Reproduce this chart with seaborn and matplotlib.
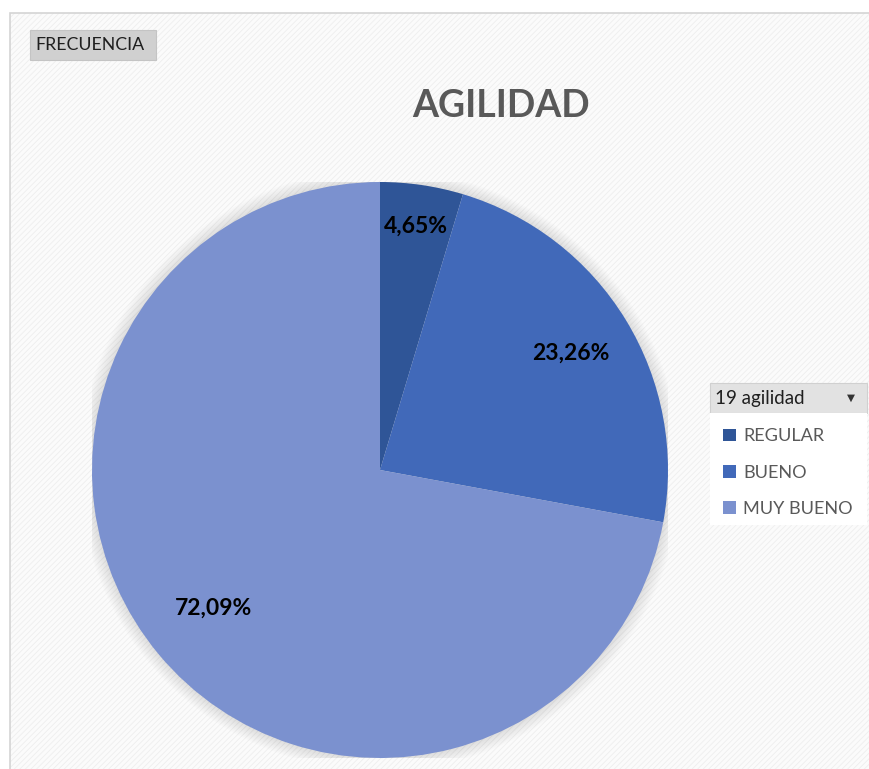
import numpy as np
import matplotlib
matplotlib.use("Agg")
import matplotlib.pyplot as plt
from matplotlib.patches import Rectangle, FancyBboxPatch, Circle
import seaborn as sns

# ---- data ----
categories = ["REGULAR", "BUENO", "MUY BUENO"]
counts = [2, 10, 31]
pct_labels = ["4,65%", "23,26%", "72,09%"]
title = "AGILIDAD"
field_button = "FRECUENCIA"
legend_title = "19 agilidad"

sns.set_style("white")
plt.rcParams["font.family"] = ["Lato", "DejaVu Sans"]
colors = sns.color_palette(["#2F5597", "#4169B9", "#7B91CF"])

W, H = 870, 769
fig = plt.figure(figsize=(W / 100, H / 100), dpi=100)
fig.patch.set_facecolor("white")

def fx(px):
    return px / W

def fy(py):
    return 1 - py / H

# chart area background with faint diagonal hatch
plt.rcParams["hatch.linewidth"] = 0.6
bg = Rectangle((fx(10), 0), 1 - fx(10), fy(13), transform=fig.transFigure,
               facecolor="#fbfbfb", edgecolor="#eeeeee", hatch="//////",
               linewidth=0, zorder=-10)
fig.patches.append(bg)
border = Rectangle((fx(10), -0.01), 1.0, fy(13) + 0.01, transform=fig.transFigure,
                   facecolor="none", edgecolor="#d4d4d4", linewidth=1.2, zorder=-9)
fig.patches.append(border)

# pie axes
cx, cy, r = 380, 470, 288
ax = fig.add_axes([fx(cx - r), fy(cy + r), 2 * r / W, 2 * r / H])
ax.set_zorder(5)
ax.set_facecolor("none")
ax.patch.set_alpha(0)

# soft shadow glow
for rr in np.linspace(1.045, 1.0, 10):
    ax.add_patch(Circle((0, 0), rr, facecolor="#000000", alpha=0.012,
                        edgecolor="none", zorder=0))

wedges, texts = ax.pie(counts, colors=colors, startangle=90, counterclock=False,
                       radius=1.0, wedgeprops=dict(linewidth=0))
for w in wedges:
    w.set_zorder(2)

label_r = [0.856, 0.776, 0.75]
for w, lab, rr in zip(wedges, pct_labels, label_r):
    ang = np.deg2rad((w.theta1 + w.theta2) / 2)
    ax.text(rr * np.cos(ang), rr * np.sin(ang), lab, ha="center", va="center",
            fontsize=16.5, fontweight="bold", color="black", zorder=3)

ax.set_xlim(-1, 1)
ax.set_ylim(-1, 1)
ax.set_aspect("equal")
ax.axis("off")

# title
fig.text(fx(501), fy(106), title, ha="center", va="center", fontsize=27,
         fontweight="bold", color="#595959")

# field button
btn = FancyBboxPatch((fx(30), fy(60)), fx(126), 30 / H, boxstyle="square,pad=0",
                     transform=fig.transFigure, facecolor="#d0d0d0",
                     edgecolor="#c4c4c4", linewidth=0.8, zorder=2)
fig.patches.append(btn)
fig.text(fx(35), fy(45), field_button, ha="left", va="center", fontsize=12.8,
         color="#1f1f1f", zorder=3)

# legend header
hdr = FancyBboxPatch((fx(710), fy(413)), fx(157), 30 / H, boxstyle="square,pad=0",
                     transform=fig.transFigure, facecolor="#e2e2e2",
                     edgecolor="#d0d0d0", linewidth=0.8, zorder=2)
fig.patches.append(hdr)
fig.text(fx(715), fy(399), legend_title, ha="left", va="center", fontsize=13.5,
         color="#1f1f1f", zorder=3)
fig.text(fx(851), fy(398), "\u25BC", ha="center", va="center", fontsize=7.5,
         color="#333333", family=["DejaVu Sans"], zorder=3)

# legend body
body = Rectangle((fx(710), fy(525)), fx(157), 112 / H, transform=fig.transFigure,
                 facecolor="white", edgecolor="none", zorder=2)
fig.patches.append(body)
leg = fig.legend(wedges, categories, loc="upper left",
                 bbox_to_anchor=(fx(716), fy(421)), frameon=False,
                 handlelength=0.7, handleheight=0.7, handletextpad=0.4,
                 labelspacing=1.12, fontsize=13.1, borderaxespad=0)
for t in leg.get_texts():
    t.set_color("#595959")
leg.set_zorder(6)

fig.savefig("out.png", dpi=100, facecolor="white")
